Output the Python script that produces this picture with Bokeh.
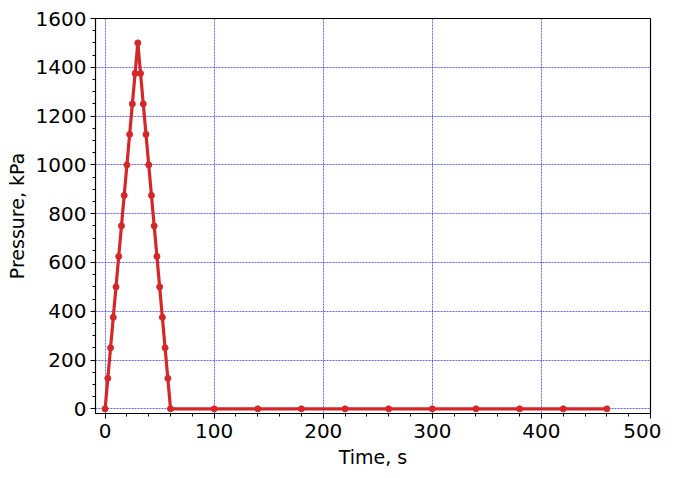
from bokeh.plotting import figure
from bokeh.models import SingleIntervalTicker, Range1d
from bokeh.embed import file_html
from bokeh.resources import INLINE

time_s = [0, 2.5, 5, 7.5, 10, 12.5, 15, 17.5, 20, 22.5, 25, 27.5, 30,
          32.5, 35, 37.5, 40, 42.5, 45, 47.5, 50, 52.5, 55, 57.5, 60,
          100, 140, 180, 220, 260, 300, 340, 380, 420, 460]
pressure_kpa = [0, 125, 250, 375, 500, 625, 750, 875, 1000, 1125, 1250, 1375, 1500,
                1375, 1250, 1125, 1000, 875, 750, 625, 500, 375, 250, 125, 0,
                0, 0, 0, 0, 0, 0, 0, 0, 0, 0]

FONT = "DejaVu Sans"

p = figure(width=661, height=470, output_backend="svg", toolbar_location=None,
           x_range=Range1d(-8.8, 500), y_range=Range1d(-19, 1600),
           min_border_left=95, min_border_top=18, min_border_right=11, min_border_bottom=55)

p.line(time_s, pressure_kpa, line_color="#d62728", line_width=3.2)
p.scatter(time_s, pressure_kpa, size=6, fill_color="#d62728", line_color="#d62728")

p.xaxis.ticker = SingleIntervalTicker(interval=100, num_minor_ticks=5)
p.yaxis.ticker = SingleIntervalTicker(interval=200, num_minor_ticks=4)

p.xaxis.axis_label = "Time, s"
p.yaxis.axis_label = "Pressure, kPa"

for ax in (p.xaxis, p.yaxis):
    ax.axis_label_text_font = FONT
    ax.axis_label_text_font_size = "19px"
    ax.axis_label_text_font_style = "normal"
    ax.axis_label_text_color = "black"
    ax.major_label_text_font = FONT
    ax.major_label_text_font_size = "20px"
    ax.major_label_text_color = "black"
    ax.major_tick_in = 0
    ax.major_tick_out = 5
    ax.minor_tick_in = 0
    ax.minor_tick_out = 3
    ax.major_tick_line_color = "black"
    ax.minor_tick_line_color = "black"
    ax.axis_line_color = "black"
    ax.axis_label_standoff = 5

p.xaxis.major_label_standoff = 5
p.yaxis.major_label_standoff = 4

p.grid.grid_line_color = "#2020ff"
p.grid.grid_line_dash = "2 1"
p.grid.grid_line_width = 0.7
p.grid.grid_line_alpha = 1.0

p.outline_line_color = "black"
p.outline_line_width = 1.2
p.outline_line_alpha = 1

open("out.html", "w").write(file_html(p, INLINE))
